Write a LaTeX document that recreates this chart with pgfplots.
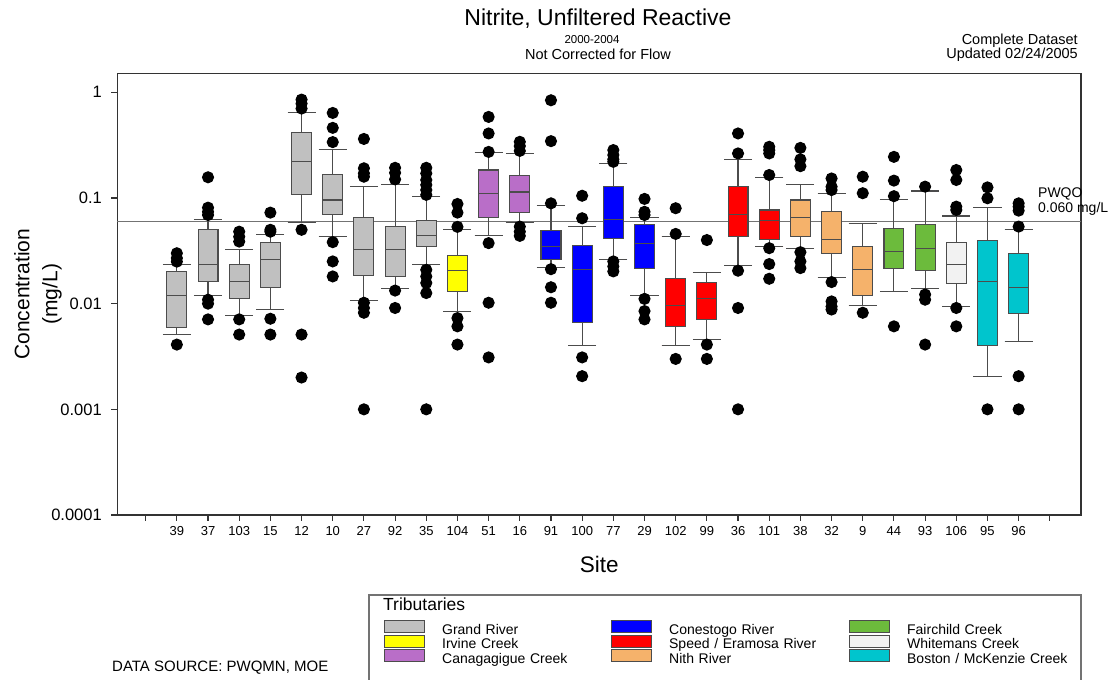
\documentclass[border=0pt]{standalone}
\usepackage{fontspec}
\setmainfont{Liberation Sans}
\usepackage{pgfplots}
\pgfplotsset{compat=1.18}
\usepgfplotslibrary{statistics}
\definecolor{grand}{RGB}{192,192,192}
\definecolor{irvine}{RGB}{255,255,0}
\definecolor{canag}{RGB}{185,110,200}
\definecolor{conest}{RGB}{0,0,255}
\definecolor{speed}{RGB}{255,0,0}
\definecolor{nith}{RGB}{245,178,107}
\definecolor{fairch}{RGB}{108,187,60}
\definecolor{whitem}{RGB}{242,242,242}
\definecolor{boston}{RGB}{0,197,205}
\pgfplotsset{
  bp/.style={forget plot, solid, line width=1.1pt, draw=black!70, mark=*, mark size=5.5pt,
     mark options={fill=black, draw=black, solid}},
}
\newcommand{\fs}[1]{\fontsize{#1}{#1}\selectfont}
\begin{document}
\begin{tikzpicture}
\useasboundingbox (0pt,0pt) rectangle (1112pt,-680pt);
\begin{axis}[
  at={(117.3pt,-515pt)}, anchor=south west,
  scale only axis, width=963.7pt, height=441.7pt,
  ymode=log, ymin=0.0001, ymax=1.513,
  xmin=0.09, xmax=31,
  clip=false,
  xtick={1,...,30},
  xticklabels={,39,37,103,15,12,10,27,92,35,104,51,16,91,100,77,29,102,99,36,101,38,32,9,44,93,106,95,96,},
  ytick={0.0001,0.001,0.01,0.1,1},
  yticklabels={0.0001,0.001,0.01,0.1,1},
  yminorticks=false,
  xtick pos=bottom, ytick pos=left,
  tick align=outside, major tick length=6pt,
  tick style={draw=black!80, line width=1.1pt},
  axis line style={draw=black!80, line width=1.3pt},
  x tick label style={font=\fs{13}, yshift=-2pt},
  y tick label style={font=\fs{16.5}, xshift=-6pt},
  /pgf/number format/assume math mode=true,
  xlabel={Site},
  xlabel style={font=\fs{22.5}, at={(axis description cs:0.5,-0.113)}, anchor=center},
  ylabel={Concentration\\(mg/L)},
  ylabel style={font=\fontsize{21}{28}\selectfont, align=center, at={(axis description cs:-0.0823,0.5)}, anchor=center},
  /pgfplots/boxplot/draw direction=y,
  /pgfplots/boxplot/box extend=0.64,
  /pgfplots/boxplot/whisker extend=0.9,
  legend columns=3,
  legend style={at={(axis description cs:0.2767,-0.2375)}, anchor=north west, draw=none, fill=none,
    inner sep=0pt, row sep=-2pt, font=\fs{14},
    nodes={inner sep=0pt, text height=9.5pt, text depth=2.5pt},
    /tikz/every odd column/.append style={column sep=17pt},
    /tikz/column 2/.append style={text width=152pt, column sep=17pt},
    /tikz/column 4/.append style={text width=165pt, column sep=15pt},
    /tikz/column 6/.append style={text width=172pt}},
  legend cell align=left,
  legend image code/.code={\draw[#1, line width=1pt] (0pt,-2pt) rectangle (40pt,10pt);},
]
% PWQO line
\addplot[forget plot, draw=black!55, line width=1.4pt] coordinates {(0.09,0.06) (31,0.06)};
\node[anchor=west, align=left, font=\fs{14}, inner sep=0pt] at (axis cs:29.62,0.093) {PWQO\\[1pt]0.060 mg/L};

% Grand River
\addplot[bp, fill=grand, boxplot prepared={draw position=2, lower whisker=0.0051, lower quartile=0.0060, median=0.0119, upper quartile=0.0202, upper whisker=0.0233}]
  table[row sep=\\, y index=0]{y\\0.030\\0.027\\0.025\\0.0041\\};
\addplot[bp, fill=grand, boxplot prepared={draw position=3, lower whisker=0.0119, lower quartile=0.0161, median=0.0237, upper quartile=0.0507, upper whisker=0.063}]
  table[row sep=\\, y index=0]{y\\0.157\\0.081\\0.074\\0.069\\0.0109\\0.010\\0.0071\\};
\addplot[bp, fill=grand, boxplot prepared={draw position=4, lower whisker=0.0077, lower quartile=0.0111, median=0.0161, upper quartile=0.0233, upper whisker=0.0323}]
  table[row sep=\\, y index=0]{y\\0.048\\0.043\\0.0387\\0.0071\\0.0051\\};
\addplot[bp, fill=grand, boxplot prepared={draw position=5, lower whisker=0.0088, lower quartile=0.0141, median=0.0264, upper quartile=0.0379, upper whisker=0.0455}]
  table[row sep=\\, y index=0]{y\\0.0727\\0.050\\0.048\\0.0072\\0.0051\\};
\addplot[bp, fill=grand, boxplot prepared={draw position=6, lower whisker=0.0585, lower quartile=0.107, median=0.222, upper quartile=0.417, upper whisker=0.643}]
  table[row sep=\\, y index=0]{y\\0.853\\0.782\\0.702\\0.050\\0.0051\\0.0020\\};
\addplot[bp, fill=grand, boxplot prepared={draw position=7, lower whisker=0.0431, lower quartile=0.0702, median=0.0958, upper quartile=0.166, upper whisker=0.288}]
  table[row sep=\\, y index=0]{y\\0.638\\0.461\\0.338\\0.0382\\0.0251\\0.0181\\};
\addplot[bp, fill=grand, boxplot prepared={draw position=8, lower whisker=0.0107, lower quartile=0.0185, median=0.0328, upper quartile=0.0652, upper whisker=0.128}]
  table[row sep=\\, y index=0]{y\\0.362\\0.191\\0.171\\0.159\\0.0102\\0.0091\\0.0082\\0.001\\};
\addplot[bp, fill=grand, boxplot prepared={draw position=9, lower whisker=0.0138, lower quartile=0.0179, median=0.0328, upper quartile=0.0536, upper whisker=0.135}]
  table[row sep=\\, y index=0]{y\\0.193\\0.173\\0.150\\0.0133\\0.0091\\};
\addplot[bp, fill=grand, boxplot prepared={draw position=10, lower whisker=0.0233, lower quartile=0.0347, median=0.0445, upper quartile=0.0607, upper whisker=0.1028}]
  table[row sep=\\, y index=0]{y\\0.193\\0.171\\0.148\\0.133\\0.119\\0.107\\0.0209\\0.0181\\0.0157\\0.0126\\0.001\\};
% Irvine Creek
\addplot[bp, fill=irvine, boxplot prepared={draw position=11, lower whisker=0.0084, lower quartile=0.0130, median=0.0206, upper quartile=0.0284, upper whisker=0.0507}]
  table[row sep=\\, y index=0]{y\\0.0878\\0.0727\\0.0533\\0.0073\\0.0061\\0.0041\\};
% Canagagigue Creek
\addplot[bp, fill=canag, boxplot prepared={draw position=12, lower whisker=0.0438, lower quartile=0.0658, median=0.111, upper quartile=0.184, upper whisker=0.268}]
  table[row sep=\\, y index=0]{y\\0.585\\0.408\\0.273\\0.0374\\0.0102\\0.0031\\};
\addplot[bp, fill=canag, boxplot prepared={draw position=13, lower whisker=0.0585, lower quartile=0.0733, median=0.114, upper quartile=0.162, upper whisker=0.264}]
  table[row sep=\\, y index=0]{y\\0.340\\0.310\\0.279\\0.0536\\0.048\\0.0438\\};
% Conestogo River
\addplot[bp, fill=conest, boxplot prepared={draw position=14, lower whisker=0.022, lower quartile=0.0264, median=0.0347, upper quartile=0.0496, upper whisker=0.0846}]
  table[row sep=\\, y index=0]{y\\0.841\\0.345\\0.089\\0.0212\\0.0143\\0.0102\\};
\addplot[bp, fill=conest, boxplot prepared={draw position=15, lower whisker=0.00404, lower quartile=0.00657, median=0.0209, upper quartile=0.0355, upper whisker=0.0536}]
  table[row sep=\\, y index=0]{y\\0.105\\0.0643\\0.0031\\0.00206\\};
\addplot[bp, fill=conest, boxplot prepared={draw position=16, lower whisker=0.026, lower quartile=0.0417, median=0.063, upper quartile=0.128, upper whisker=0.212}]
  table[row sep=\\, y index=0]{y\\0.284\\0.255\\0.232\\0.220\\0.0251\\0.0225\\0.0202\\};
\addplot[bp, fill=conest, boxplot prepared={draw position=17, lower whisker=0.0119, lower quartile=0.0217, median=0.0374, upper quartile=0.0565, upper whisker=0.0658}]
  table[row sep=\\, y index=0]{y\\0.098\\0.074\\0.069\\0.0111\\0.0085\\0.0071\\};
% Speed / Eramosa River
\addplot[bp, fill=speed, boxplot prepared={draw position=18, lower whisker=0.00404, lower quartile=0.00603, median=0.0096, upper quartile=0.0172, upper whisker=0.0431}]
  table[row sep=\\, y index=0]{y\\0.080\\0.0457\\0.0030\\};
\addplot[bp, fill=speed, boxplot prepared={draw position=19, lower whisker=0.00457, lower quartile=0.00702, median=0.0111, upper quartile=0.016, upper whisker=0.0199}]
  table[row sep=\\, y index=0]{y\\0.040\\0.0041\\0.0030\\};
\addplot[bp, fill=speed, boxplot prepared={draw position=20, lower whisker=0.0228, lower quartile=0.0431, median=0.0702, upper quartile=0.128, upper whisker=0.232}]
  table[row sep=\\, y index=0]{y\\0.408\\0.264\\0.0205\\0.0091\\0.001\\};
\addplot[bp, fill=speed, boxplot prepared={draw position=21, lower whisker=0.0347, lower quartile=0.0408, median=0.0611, upper quartile=0.077, upper whisker=0.1555}]
  table[row sep=\\, y index=0]{y\\0.305\\0.284\\0.264\\0.165\\0.0335\\0.0237\\0.0172\\};
% Nith River
\addplot[bp, fill=nith, boxplot prepared={draw position=22, lower whisker=0.033, lower quartile=0.0431, median=0.0658, upper quartile=0.0958, upper whisker=0.135}]
  table[row sep=\\, y index=0]{y\\0.298\\0.232\\0.200\\0.0307\\0.0251\\0.0217\\};
\addplot[bp, fill=nith, boxplot prepared={draw position=23, lower whisker=0.0177, lower quartile=0.0301, median=0.0408, upper quartile=0.0742, upper whisker=0.111}]
  table[row sep=\\, y index=0]{y\\0.153\\0.128\\0.119\\0.016\\0.0105\\0.0094\\0.0088\\};
\addplot[bp, fill=nith, boxplot prepared={draw position=24, lower whisker=0.0097, lower quartile=0.0119, median=0.0209, upper quartile=0.0347, upper whisker=0.0569}]
  table[row sep=\\, y index=0]{y\\0.159\\0.111\\0.0082\\};
% Fairchild Creek
\addplot[bp, fill=fairch, boxplot prepared={draw position=25, lower whisker=0.013, lower quartile=0.0217, median=0.0314, upper quartile=0.0513, upper whisker=0.0972}]
  table[row sep=\\, y index=0]{y\\0.245\\0.146\\0.104\\0.0061\\};
\addplot[bp, fill=fairch, boxplot prepared={draw position=26, lower whisker=0.0138, lower quartile=0.0205, median=0.0332, upper quartile=0.056, upper whisker=0.1164}]
  table[row sep=\\, y index=0]{y\\0.128\\0.0122\\0.0109\\0.0041\\};
% Whitemans Creek
\addplot[bp, fill=whitem, boxplot prepared={draw position=27, lower whisker=0.0094, lower quartile=0.0154, median=0.0233, upper quartile=0.0382, upper whisker=0.0676}]
  table[row sep=\\, y index=0]{y\\0.184\\0.148\\0.0828\\0.077\\0.0091\\0.0061\\};
% Boston / McKenzie Creek
\addplot[bp, fill=boston, boxplot prepared={draw position=28, lower whisker=0.00203, lower quartile=0.00404, median=0.0161, upper quartile=0.0396, upper whisker=0.0817}]
  table[row sep=\\, y index=0]{y\\0.126\\0.0994\\0.001\\};
\addplot[bp, fill=boston, boxplot prepared={draw position=29, lower whisker=0.0044, lower quartile=0.008, median=0.0141, upper quartile=0.0301, upper whisker=0.0507}]
  table[row sep=\\, y index=0]{y\\0.089\\0.0828\\0.0759\\0.0536\\0.00206\\0.001\\};

% legend (row-wise order for 3 columns)
\addlegendimage{fill=grand, draw=black!70}\addlegendentry{Grand River}
\addlegendimage{fill=conest, draw=black!70}\addlegendentry{Conestogo River}
\addlegendimage{fill=fairch, draw=black!70}\addlegendentry{Fairchild Creek}
\addlegendimage{fill=irvine, draw=black!70}\addlegendentry{Irvine Creek}
\addlegendimage{fill=speed, draw=black!70}\addlegendentry{Speed / Eramosa River}
\addlegendimage{fill=whitem, draw=black!70}\addlegendentry{Whitemans Creek}
\addlegendimage{fill=canag, draw=black!70}\addlegendentry{Canagagigue Creek}
\addlegendimage{fill=nith, draw=black!70}\addlegendentry{Nith River}
\addlegendimage{fill=boston, draw=black!70}\addlegendentry{Boston / McKenzie Creek}
\end{axis}
% titles
\node[font=\fs{23}, anchor=center] at (598pt,-19pt) {Nitrite, Unfiltered Reactive};
\node[font=\fs{11.5}, anchor=center] at (592pt,-40pt) {2000-2004};
\node[font=\fs{14.5}, anchor=center] at (598pt,-54.5pt) {Not Corrected for Flow};
\node[font=\fs{14.5}, anchor=east, inner sep=0pt] at (1078pt,-41pt) {Complete Dataset};
\node[font=\fs{14.5}, anchor=east, inner sep=0pt] at (1078pt,-55pt) {Updated 02/24/2005};
% legend frame
\draw[draw=black!55, line width=1.2pt] (369pt,-595pt) rectangle (1081pt,-700pt);
\node[font=\fs{17.5}, anchor=west, inner sep=0pt] at (383pt,-604pt) {Tributaries};
\node[font=\fs{15}, anchor=west, inner sep=0pt] at (112pt,-668pt) {DATA SOURCE: PWQMN, MOE};
\end{tikzpicture}
\end{document}
